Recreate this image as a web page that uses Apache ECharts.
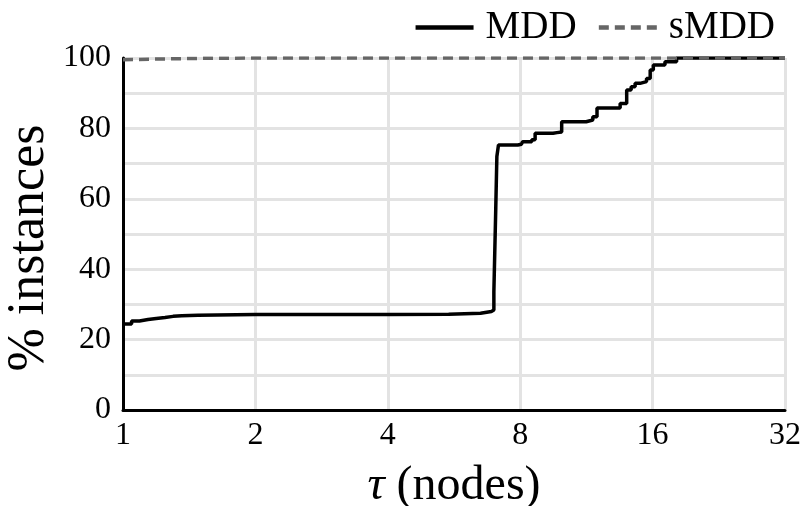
<!DOCTYPE html>
<html>
<head>
<meta charset="utf-8">
<script src="https://cdn.jsdelivr.net/npm/echarts@6/dist/echarts.min.js"></script>
<style>
  html, body { margin: 0; padding: 0; background: #fff; }
  #chart { width: 802px; height: 506px; }
</style>
</head>
<body>
<div id="chart"></div>
<script>
// step curves: x = tau (nodes), y = % instances
const mddX = [1, 1.046, 1.09, 1.14, 1.19, 1.246, 1.3, 1.36, 1.48, 2, 4, 5.5, 6.5, 6.88, 6.97, 7.04, 7.08, 7.14,
  7.9, 8.05, 8.1, 8.5, 8.65, 9.5, 9.7, 9.94, 11.3, 11.7, 11.96, 13.5, 13.97, 14.3, 14.6, 14.98,
  15.5, 15.8, 16.06, 17.07, 18.14, 32];
const mddY = [24.4, 25.3, 25.7, 26.0, 26.3, 26.6, 26.8, 26.9, 27.1, 27.1, 27.2, 27.5, 28.0, 28.4, 33.5, 57.5, 72, 75.3,
  75.5, 75.7, 76.2, 76.8, 78.6, 78.8, 79, 81.9, 82.4, 83.3, 85.8, 87.1, 90.9, 91.8, 92.8, 93.3,
  94.2, 96.6, 98, 98.9, 100, 100];
const smddX = [1, 1.2, 1.5, 2, 32];
const smddY = [99.5, 99.7, 99.9, 100, 100];
const xTicks = [1, 2, 4, 8, 16, 32];

const serif = 'Liberation Serif';

function pairs(xs, ys){
  let list = [];
  for (let i = 0; i < xs.length; i++) list.push([xs[i], ys[i]]);
  return list;
}

const chart = echarts.init(document.getElementById('chart'));
chart.setOption({
  animation: false,
  textStyle: { fontFamily: serif },
  legend: {
    right: 22,
    top: 3,
    itemWidth: 58,
    itemHeight: 20,
    itemGap: 20,
    itemStyle: { opacity: 0 },
    lineStyle: { width: 4.5 },
    textStyle: { fontFamily: serif, fontSize: 39, color: '#000', padding: [0, 0, 0, 7] },
    data: ['MDD', 'sMDD']
  },
  grid: { left: 123, right: 17, top: 58, bottom: 96, outerBoundsMode: 'none', containLabel: false },
  xAxis: {
    type: 'log',
    logBase: 2,
    min: 1,
    max: 32,
    name: '{i|τ} (nodes)',
    nameLocation: 'middle',
    nameGap: 52,
    nameTextStyle: {
      fontFamily: serif, fontSize: 48, color: '#000',
      rich: { i: { fontFamily: serif, fontSize: 48, fontStyle: 'italic', color: '#000' } }
    },
    axisLine: { lineStyle: { color: '#000', width: 3 } },
    axisTick: { show: false },
    axisLabel: {
      fontFamily: serif, fontSize: 32, color: '#000', margin: 10,
      formatter: v => xTicks.includes(Math.round(v)) ? String(Math.round(v)) : ''
    },
    splitLine: { show: true, lineStyle: { color: '#e3e3e3', width: 3 } },
    minorTick: { show: false }
  },
  yAxis: {
    type: 'value',
    min: 0,
    max: 100,
    interval: 10,
    name: '% instances',
    nameLocation: 'middle',
    nameRotate: 90,
    nameGap: 68,
    nameMoveOverlap: false,
    nameTextStyle: { fontFamily: serif, fontSize: 52, color: '#000', padding: [0, 28, 0, 0] },
    axisLine: { show: true, lineStyle: { color: '#000', width: 3 } },
    axisTick: { show: false },
    axisLabel: {
      fontFamily: serif, fontSize: 32, color: '#000', margin: 12,
      formatter: v => v % 20 === 0 ? String(v) : ''
    },
    splitLine: { show: true, lineStyle: { color: '#e3e3e3', width: 3 } }
  },
  series: [
    {
      name: 'MDD',
      type: 'line',
      step: 'end',
      showSymbol: false,
      symbol: 'none',
      data: pairs(mddX, mddY),
      lineStyle: { color: '#000', width: 3.5 },
      itemStyle: { color: '#000' },
      z: 2
    },
    {
      name: 'sMDD',
      type: 'line',
      showSymbol: false,
      symbol: 'none',
      data: pairs(smddX, smddY),
      lineStyle: { color: '#666', width: 3.5, type: [10, 6] },
      itemStyle: { color: '#666' },
      z: 3
    }
  ]
});
</script>
</body>
</html>
